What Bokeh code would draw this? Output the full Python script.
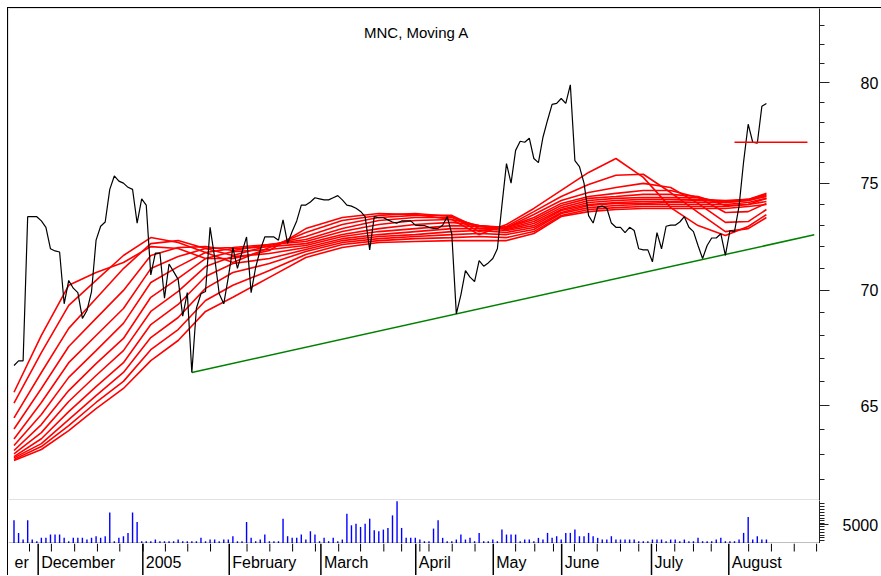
from bokeh.plotting import figure
from bokeh.layouts import column
from bokeh.models import Range1d, FixedTicker, Label, ColumnDataSource, Span, BasicTickFormatter
from bokeh.core.properties import value
from bokeh.embed import file_html
from bokeh.resources import INLINE

# ---------------- data ----------------
# daily closes, one per trading day (index 0 = late November 2004)
price = [66.7, 66.9, 66.9, 73.4, 73.4, 73.4, 73.2, 72.9, 71.9, 71.8,
         71.75, 69.4, 70.45, 70.1, 69.9, 68.75, 69.1, 69.95, 72.3, 72.95,
         73.15, 74.7, 75.35, 75.1, 75.0, 74.8, 74.7, 73.1, 74.25, 73.95,
         70.7, 71.7, 71.7, 69.65, 71.2, 70.85, 70.5, 68.85, 69.9, 66.4,
         69.2, 69.85, 69.95, 72.9, 71.5, 69.85, 69.4, 70.6, 71.95, 71.0,
         71.75, 72.45, 69.9, 71.05, 71.85, 72.45, 72.45, 72.45, 72.3, 73.25,
         72.15, 72.7, 73.2, 73.95, 73.95, 74.1, 74.3, 74.25, 74.2, 74.2,
         74.3, 74.4, 74.2, 73.95, 73.9, 73.8, 73.65, 73.4, 71.85, 73.4,
         73.35, 73.35, 73.25, 73.15, 73.1, 73.2, 73.2, 73.2, 73.0, 72.98,
         72.98, 72.9, 72.85, 72.85, 73.0, 73.4, 72.6, 68.95, 69.8, 70.9,
         70.6, 70.4, 71.35, 71.1, 71.25, 71.45, 71.9, 73.95, 75.95, 75.0,
         76.6, 77.05, 77.0, 77.2, 76.2, 76.0, 77.25, 78.1, 78.9, 78.95,
         79.2, 78.95, 79.9, 76.1, 75.8, 75.0, 73.45, 73.1, 73.85, 73.9,
         73.8, 73.1, 72.9, 72.9, 72.65, 72.9, 72.75, 71.9, 71.85, 71.85,
         71.3, 72.65, 71.9, 72.95, 73.0, 73.0, 73.15, 73.4, 72.9, 72.7,
         72.05, 71.45, 72.05, 72.4, 72.4, 72.6, 71.6, 72.75, 72.7, 73.9,
         76.05, 77.9, 77.0, 76.95, 78.8, 78.95]

volume = [6140, 2810, 1050, 6140, 1050, 610, 1490, 1490, 2370, 2370,
          2370, 1490, 610, 1490, 1490, 1490, 1050, 1490, 1930, 1490,
          1930, 8240, 610, 1490, 1930, 2810, 8240, 5700, 610, 610,
          610, 1050, 610, 610, 610, 610, 1050, 610, 610, 610,
          610, 1490, 610, 1050, 1050, 610, 1050, 1050, 1930, 610,
          610, 5700, 1490, 610, 1050, 2370, 610, 610, 610, 6580,
          1930, 1490, 1490, 2370, 1050, 3240, 2370, 610, 1490, 610,
          1490, 610, 1050, 7890, 4820, 5260, 4380, 5260, 6580, 3500,
          3240, 3680, 4120, 7450, 11220, 4120, 1490, 1490, 1490, 1050,
          610, 610, 3950, 6140, 1490, 610, 610, 1050, 2370, 1050,
          1490, 610, 2810, 610, 610, 1050, 610, 3680, 2370, 2370,
          2370, 610, 1050, 1050, 610, 1490, 1050, 2810, 1490, 1930,
          1050, 2810, 2810, 3680, 1930, 1930, 2810, 1930, 1490, 1050,
          1050, 1930, 1050, 1050, 1050, 1050, 1050, 610, 610, 610,
          1050, 1050, 1050, 610, 1050, 1050, 610, 1050, 610, 610,
          1490, 610, 610, 610, 1050, 1490, 610, 610, 610, 1050,
          2810, 7020, 1050, 1930, 1050, 1050]

day_index = list(range(len(price)))

# moving-average curves, read at these trading-day indices
ma_index = [0, 6, 12, 18, 24, 30, 36, 42, 48, 56, 64, 72, 80, 88, 96, 102,
            108, 114, 120, 126, 132, 138, 144, 150, 156, 161, 165]
ma1 = [65.56, 68.00, 70.23, 70.81, 71.27, 72.00, 71.91, 71.45, 71.45, 71.82, 72.84, 73.36, 73.55, 73.50,
       73.27, 72.56, 73.03, 73.79, 74.65, 75.52, 76.20, 75.28, 73.83, 72.98, 72.52, 72.94, 73.50]
ma2 = [65.10, 67.25, 69.33, 70.45, 71.59, 72.42, 72.19, 71.73, 71.27, 71.96, 72.66, 73.22, 73.46, 73.55,
       73.41, 72.70, 72.94, 73.64, 74.36, 74.94, 75.38, 75.43, 74.55, 73.60, 72.70, 72.84, 73.36]
ma3 = [64.49, 66.40, 68.31, 69.64, 70.99, 72.14, 72.28, 71.91, 71.59, 72.05, 72.47, 73.03, 73.36, 73.46,
       73.46, 72.84, 72.89, 73.50, 74.17, 74.55, 74.79, 74.99, 74.79, 74.03, 73.13, 73.17, 73.74]
ma4 = [64.03, 65.72, 67.52, 68.75, 70.00, 71.59, 71.96, 72.00, 71.82, 72.10, 72.33, 72.84, 73.22, 73.36,
       73.36, 72.94, 72.89, 73.36, 74.03, 74.36, 74.51, 74.65, 74.65, 74.31, 73.60, 73.64, 74.03]
ma5 = [63.62, 65.13, 66.82, 68.00, 69.19, 70.99, 71.54, 71.91, 71.96, 72.10, 72.24, 72.70, 73.03, 73.22,
       73.27, 72.98, 72.89, 73.27, 73.93, 74.27, 74.36, 74.46, 74.46, 74.36, 73.93, 73.98, 74.27]
ma6 = [63.35, 64.63, 66.19, 67.34, 68.53, 70.36, 71.08, 71.73, 71.91, 72.00, 72.14, 72.56, 72.84, 73.03,
       73.13, 72.98, 72.84, 73.17, 73.83, 74.17, 74.27, 74.31, 74.31, 74.31, 74.07, 74.17, 74.41]
ma7 = [63.15, 64.21, 65.63, 66.78, 67.87, 69.69, 70.54, 71.45, 71.77, 71.87, 72.05, 72.47, 72.70, 72.84,
       72.98, 72.94, 72.80, 73.08, 73.74, 74.07, 74.17, 74.22, 74.22, 74.22, 74.17, 74.22, 74.51]
ma8 = [63.01, 63.88, 65.17, 66.27, 67.34, 69.06, 69.96, 71.08, 71.54, 71.68, 71.96, 72.37, 72.56, 72.70,
       72.84, 72.84, 72.75, 72.98, 73.69, 73.98, 74.07, 74.12, 74.12, 74.17, 74.12, 74.22, 74.46]
ma9 = [62.90, 63.63, 64.75, 65.80, 66.82, 68.48, 69.37, 70.63, 71.22, 71.45, 71.87, 72.28, 72.47, 72.56,
       72.70, 72.75, 72.66, 72.89, 73.60, 73.93, 74.03, 74.03, 74.07, 74.07, 74.07, 74.17, 74.36]
ma10 = [62.85, 63.43, 64.42, 65.42, 66.40, 67.91, 68.79, 70.09, 70.81, 71.22, 71.77, 72.19, 72.37, 72.47,
        72.56, 72.61, 72.56, 72.80, 73.55, 73.83, 73.93, 73.98, 73.98, 73.98, 73.98, 74.07, 74.27]
ma11 = [62.79, 63.31, 64.17, 65.13, 66.02, 67.38, 68.26, 69.55, 70.23, 70.90, 71.64, 72.10, 72.28, 72.37,
        72.42, 72.47, 72.42, 72.70, 73.46, 73.74, 73.83, 73.88, 73.88, 73.88, 73.88, 73.98, 74.12]
ma12 = [62.74, 63.19, 63.96, 64.87, 65.72, 66.91, 67.78, 69.06, 69.69, 70.59, 71.50, 71.96, 72.19, 72.24,
        72.28, 72.28, 72.28, 72.61, 73.41, 73.64, 73.74, 73.79, 73.79, 73.79, 73.79, 73.88, 73.98]
moving_averages = [ma1, ma2, ma3, ma4, ma5, ma6, ma7, ma8, ma9, ma10, ma11, ma12]

# support trend line and resistance level
trend_index = [39, 175.5]
trend_value = [66.4, 72.55]
resist_index = [158, 174]
resist_value = [77.0, 77.0]

# time axis: month starts and week ticks (in trading-day index)
month_index = [5.3, 28.25, 47.2, 67.3, 88.1, 105.1, 120.1, 139.8, 156.75]
label_index = [-0.55, 5.3, 28.25, 47.2, 67.3, 88.1, 105.1, 120.1, 139.8, 156.75]
label_text = ["er", "December", "2005", "February", "March", "April", "May", "June", "July", "August"]
week_index = [3.4, 8.2, 13.3, 18.3, 23.2, 28.3, 33.2, 38.1, 43.1, 51.1, 56.1, 61.1, 66.1, 71.2,
              76.0, 81.1, 85.0, 89.0, 91.0, 96.1, 101.1, 110.0, 114.2, 118.3, 122.9, 127.9,
              133.0, 137.0, 140.9, 144.9, 149.0, 152.9, 161.1, 166.1, 171.1, 176.0]

price_ticks = [65, 70, 75, 80]
price_minor_ticks = list(range(62, 84))
volume_ticks = [5000]
volume_minor_ticks = list(range(750, 11000, 750))

title_text = "MNC, Moving A"

# ---------------- chart ----------------
FONT = "Liberation Sans"
FW = 811
xr = Range1d(-1.206, 176.64)

common = dict(frame_width=FW, x_range=xr, toolbar_location=None, output_backend="svg",
              min_border_left=0, min_border_top=0, min_border_bottom=0, min_border_right=0,
              background_fill_color="white", border_fill_color="white")

# price panel (log scale)
p1 = figure(frame_height=492, y_range=Range1d(61.15, 83.92), y_axis_type="log",
            y_axis_location="right", x_axis_location=None,
            outline_line_color="#e2e2e2", outline_line_width=1, **common)
p1.grid.grid_line_color = None
ax = p1.yaxis[0]
ax.ticker = FixedTicker(ticks=price_ticks, minor_ticks=price_minor_ticks)
ax.formatter = BasicTickFormatter()
ax.major_tick_out = 10
ax.major_tick_in = 0
ax.minor_tick_out = 5
ax.minor_tick_in = 0
ax.axis_line_color = "#222222"
ax.major_tick_line_color = "#222222"
ax.minor_tick_line_color = "#222222"
ax.major_label_text_font = FONT
ax.major_label_text_font_size = "16px"
ax.major_label_text_color = "black"
ax.major_label_standoff = 31

for ma in moving_averages:
    p1.line(ma_index, ma, line_color="#ff0000", line_width=1.6)
p1.line(trend_index, trend_value, line_color="#008000", line_width=1.5)
p1.line(day_index, price, line_color="black", line_width=1.2)
p1.line(resist_index, resist_value, line_color="#ff0000", line_width=1.6)

p1.add_layout(Label(x=408, y=468, x_units="screen", y_units="screen", text=title_text,
                    text_align="center", text_baseline="middle", text_font=FONT,
                    text_font_size="15px", text_color="black"))

# volume panel
p2 = figure(frame_height=43, y_range=Range1d(0, 11390), y_axis_location="right",
            x_axis_location=None, outline_line_color=None, **common)
p2.grid.grid_line_color = None
vsrc = ColumnDataSource(dict(i=day_index, v=volume, z=[0] * len(volume)))
p2.segment(x0="i", y0="z", x1="i", y1="v", source=vsrc, line_color="#0000ff", line_width=1.4)
p2.add_layout(Span(location=0, dimension="width", line_color="black", line_width=1.5))
vax = p2.yaxis[0]
vax.ticker = FixedTicker(ticks=volume_ticks, minor_ticks=volume_minor_ticks)
vax.formatter = BasicTickFormatter()
vax.major_tick_out = 9
vax.major_tick_in = 0
vax.minor_tick_out = 5
vax.minor_tick_in = 0
vax.axis_line_color = "#222222"
vax.major_tick_line_color = "#222222"
vax.minor_tick_line_color = "#222222"
vax.major_label_text_font = FONT
vax.major_label_text_font_size = "16px"
vax.major_label_text_color = "black"
vax.major_label_standoff = 14

# time axis strip
p3 = figure(frame_height=32, y_range=Range1d(0, 32), x_axis_location=None, y_axis_location=None,
            outline_line_color=None, **common)
p3.grid.grid_line_color = None
p3.segment(x0=month_index, y0=[0] * len(month_index), x1=month_index, y1=[32] * len(month_index),
           line_color="black", line_width=1.5)
p3.segment(x0=week_index, y0=[24] * len(week_index), x1=week_index, y1=[32] * len(week_index),
           line_color="black", line_width=1)
p3.text(x=label_index, y=[13.3] * len(label_index), text=label_text, text_align="left",
        text_baseline="middle", x_offset=3, text_font=value(FONT), text_font_size="16px",
        text_color="black")

inner = column(p1, p2, p3, spacing=0,
               styles={"border-left": "1.5px solid black", "border-top": "1.5px solid black"})
layout = column(inner, spacing=0, styles={"padding-left": "6.5px", "padding-top": "6.5px"})

open("out.html", "w").write(file_html(layout, INLINE))
